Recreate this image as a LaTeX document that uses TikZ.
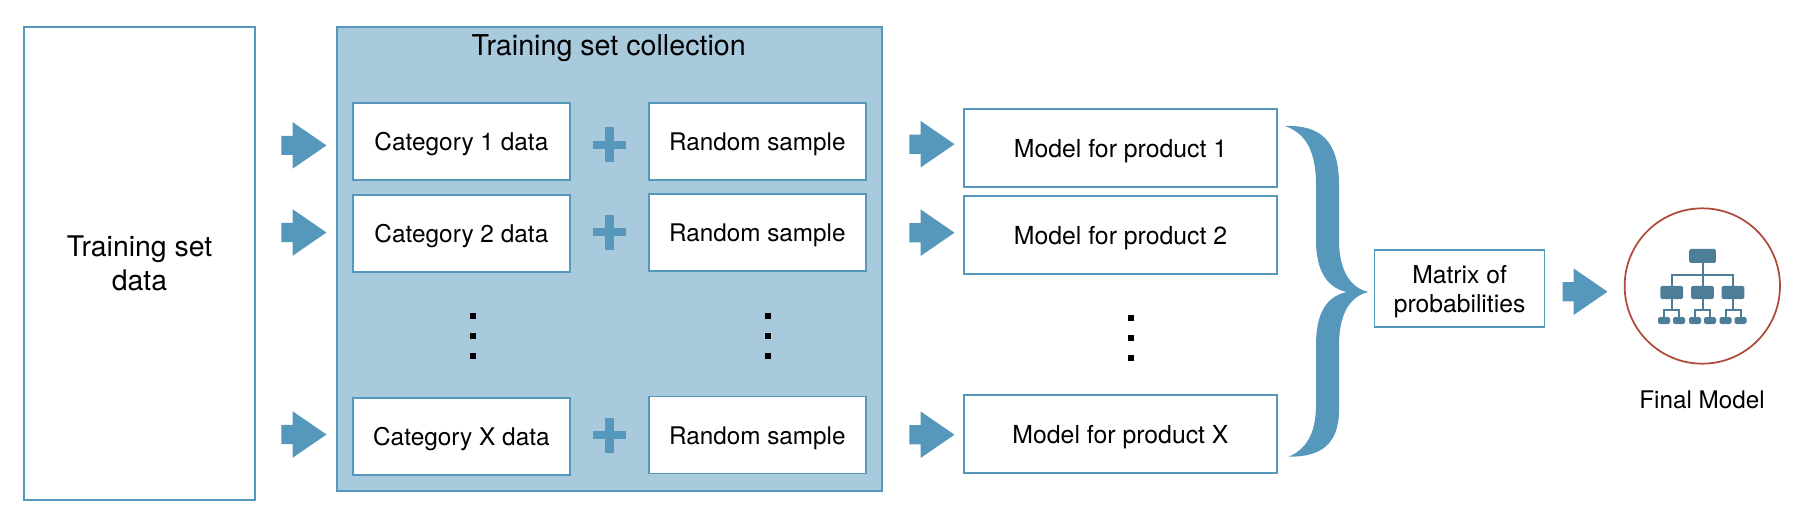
\documentclass[tikz,border=0pt]{standalone}
\usepackage{fontspec}
\setmainfont{TeX Gyre Heros}
\usetikzlibrary{shapes.arrows}

\definecolor{lineblue}{HTML}{5598BC}
\definecolor{panelblue}{HTML}{A9CADD}
\definecolor{iconblue}{HTML}{4E7D99}
\definecolor{ringred}{HTML}{AE4A38}

\tikzset{
    stagebox/.style={rectangle,draw=lineblue,line width=1.3pt,fill=white,align=center,inner sep=0pt},
    oneline/.style={text height=14.25pt,text depth=0pt},
    blockarrow/.style={single arrow,fill=lineblue,inner sep=0pt,minimum height=33.75pt,text height=14pt,text depth=0pt,
        single arrow head extend=10.25pt,single arrow tip angle=69},
    dotmark/.style={rectangle,fill=black,inner sep=0pt,minimum size=4.5pt},
    plusbar/.style={rectangle,fill=lineblue,inner sep=0pt},
    treeline/.style={draw=iconblue,line width=1.5pt},
    treebox/.style={rectangle,rounded corners=1.2pt,fill=iconblue,inner sep=0pt}
}

\begin{document}
\begin{tikzpicture}[x=0.75pt,y=-0.75pt]
\useasboundingbox (0,0) rectangle (1816,520);

\node[stagebox,minimum width=173.25pt,minimum height=354.75pt,font=\fontsize{21.3}{26}\selectfont] (trainset) at (139.5,263.3) {Training set\\data};
\node[stagebox,fill=panelblue,minimum width=408.75pt,minimum height=348pt] (panel) at (609.5,259) {};
\node[font=\fontsize{21.5}{25}\selectfont] (paneltitle) at (608.7,48) {Training set collection};

\begin{scope}[every node/.style={stagebox,oneline,text height=13.5pt,minimum width=162.75pt,minimum height=57.75pt,font=\fontsize{18.3}{22}\selectfont}]
    \node (cat1) at (461.4,141.7) {Category 1 data};
    \node (cat2) at (461.4,233.8) {Category 2 data};
    \node (catx) at (461.4,436.5) {Category X data};
\end{scope}

\begin{scope}[every node/.style={stagebox,oneline,minimum width=162.75pt,minimum height=57.75pt,font=\fontsize{18.2}{22}\selectfont}]
    \node (rand1) at (757.4,141.3) {Random sample};
    \node (rand2) at (757.4,232.2) {Random sample};
    \node (randx) at (757.4,435) {Random sample};
\end{scope}

\begin{scope}[every node/.style={stagebox,oneline,minimum width=234.75pt,minimum height=58.5pt,font=\fontsize{18.6}{22}\selectfont}]
    \node (model1) at (1120.5,147.7) {Model for product 1};
    \node (model2) at (1120.5,234.9) {Model for product 2};
    \node (modelx) at (1120.5,433.9) {Model for product X};
\end{scope}

\node[stagebox,minimum width=127.5pt,minimum height=57.75pt,font=\fontsize{18.5}{21.75}\selectfont] (matrix) at (1459.6,288.5) {\rule{0pt}{18pt}Matrix of\\probabilities};

\begin{scope}[every node/.style={blockarrow}]
    \node (in1) at (297,145.4) {};
    \node (in2) at (297,232.5) {};
    \node (inx) at (297,434.5) {};
    \node (out1) at (925,144.2) {};
    \node (out2) at (925,232.7) {};
    \node (outx) at (925,434.7) {};
    \node (final) at (1578,291.7) {};
\end{scope}

\foreach \row/\y in {1/145,2/232.5,x/435}{
    \node[plusbar,minimum width=24.75pt,minimum height=6pt] (plush\row) at (609.5,\y) {};
    \node[plusbar,minimum width=6.4pt,minimum height=26.25pt] (plusv\row) at (609.5,\y) {};
}

\foreach \col/\x/\y in {a/472.5/315.7,b/768/315.7,c/1131/317.7}{
    \node[dotmark] (\col1) at (\x,\y) {};
    \node[dotmark] (\col2) at (\x,\y+20) {};
    \node[dotmark] (\col3) at (\x,\y+40.3) {};
}

\fill[lineblue] (1285,126) .. controls (1320,125) and (1339,140) .. (1339,185) -- (1339,240)
    .. controls (1339,270) and (1350,288) .. (1368.6,292)
    .. controls (1350,296) and (1339,314) .. (1339,345) -- (1339,410)
    .. controls (1339,445) and (1320,457) .. (1288.5,456.7)
    .. controls (1305,450) and (1316,435) .. (1316,405) -- (1316,345)
    .. controls (1316,315) and (1325,297) .. (1346.5,292)
    .. controls (1325,287) and (1316,268) .. (1316,240) -- (1316,185)
    .. controls (1316,150) and (1305,133) .. (1285,126) -- cycle;

\node[circle,draw=ringred,line width=1.3pt,minimum size=116.5pt,inner sep=0pt] (ring) at (1702.3,286) {};
\node[font=\fontsize{18.2}{21}\selectfont] (ringlabel) at (1702,400) {Final Model};

\begin{scope}[every node/.style={treebox,minimum width=17pt,minimum height=10pt}]
    \node[minimum width=20pt,minimum height=10.5pt] (top) at (1702.5,256) {};
    \node (mid1) at (1671.7,292.5) {};
    \node (mid2) at (1702.5,292.5) {};
    \node (mid3) at (1733,292.5) {};
\end{scope}

\begin{scope}[every node/.style={treebox,minimum width=9pt,minimum height=5.25pt}]
    \node (leaf1) at (1664,320.5) {};
    \node (leaf2) at (1679,320.5) {};
    \node (leaf3) at (1695,320.5) {};
    \node (leaf4) at (1710,320.5) {};
    \node (leaf5) at (1725.5,320.5) {};
    \node (leaf6) at (1740.5,320.5) {};
\end{scope}

\begin{scope}[every path/.style={treeline}]
    \path (top.south) -- (mid2.north);
    \path (top.south) -- ++(0,12) -| (mid1.north);
    \path (top.south) -- ++(0,12) -| (mid3.north);
    \path (mid1.south) -- ++(0,10.5) -| (leaf1.north);
    \path (mid1.south) -- ++(0,10.5) -| (leaf2.north);
    \path (mid2.south) -- ++(0,10.5) -| (leaf3.north);
    \path (mid2.south) -- ++(0,10.5) -| (leaf4.north);
    \path (mid3.south) -- ++(0,10.5) -| (leaf5.north);
    \path (mid3.south) -- ++(0,10.5) -| (leaf6.north);
\end{scope}
\end{tikzpicture}
\end{document}
